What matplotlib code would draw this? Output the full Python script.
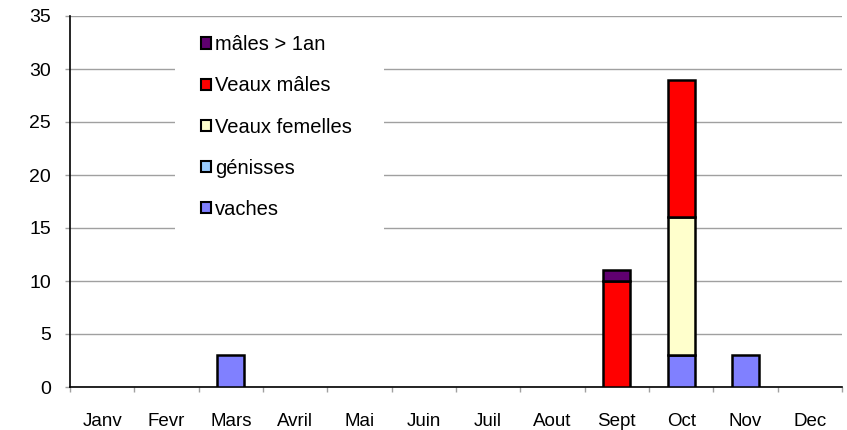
import numpy as np
from matplotlib import pyplot as plt
from matplotlib.patches import Rectangle, Patch

plt.rcParams['font.family'] = ['Liberation Sans', 'DejaVu Sans']

# donnees
mois = ['Janv', 'Fevr', 'Mars', 'Avril', 'Mai', 'Juin', 'Juil', 'Aout', 'Sept', 'Oct', 'Nov', 'Dec']
vaches = [0, 0, 3, 0, 0, 0, 0, 0, 0, 3, 3, 0]
genisses = [0, 0, 0, 0, 0, 0, 0, 0, 0, 0, 0, 0]
veaux_femelles = [0, 0, 0, 0, 0, 0, 0, 0, 0, 13, 0, 0]
veaux_males = [0, 0, 0, 0, 0, 0, 0, 0, 10, 13, 0, 0]
males_1an = [0, 0, 0, 0, 0, 0, 0, 0, 1, 0, 0, 0]

series = [
    ('vaches', vaches, '#8080FF'),
    ('génisses', genisses, '#99CCFF'),
    ('Veaux femelles', veaux_femelles, '#FFFFCC'),
    ('Veaux mâles', veaux_males, '#FF0000'),
    ('mâles > 1an', males_1an, '#600070'),
]

fig = plt.figure(figsize=(8.47, 4.30), dpi=100)
ax = fig.add_axes([70/847, 1 - 387/430, 772/847, 371/430])

x = np.arange(len(mois))
bas = np.zeros(len(mois))
handles = []
for nom, val, coul in series:
    val = np.array(val, dtype=float)
    m = val > 0  # pas de barre pour les zeros (sinon un trait noir sur l'axe)
    ax.bar(x[m], val[m], 0.42, bottom=bas[m], color=coul, edgecolor='black',
           linewidth=1.8, zorder=3)
    handles.append(Patch(facecolor=coul, edgecolor='black', linewidth=1.5))
    bas += val

ax.set_xlim(-0.5, 11.5)
ax.set_ylim(0, 35)
ax.set_yticks(np.arange(0, 36, 5))
ax.yaxis.grid(True, color='#a0a0a0', linewidth=1)
ax.set_axisbelow(True)

# ticks aux limites des categories, etiquettes au centre
ax.set_xticks(np.arange(-0.5, 12, 1))
ax.set_xticklabels([])
ax.set_xticks(x, minor=True)
ax.set_xticklabels(mois, minor=True)
ax.tick_params(axis='x', which='major', length=3.6, color='#a0a0a0', width=1)
ax.tick_params(axis='x', which='minor', length=0, pad=19, labelsize=13.5)
ax.tick_params(axis='y', length=3.6, color='#a0a0a0', width=1, pad=10, labelsize=14)

for s in ['top', 'right']:
    ax.spines[s].set_visible(False)
ax.spines['left'].set_linewidth(1.2)
ax.spines['bottom'].set_linewidth(1.2)

# fond blanc de la legende
ax.add_patch(Rectangle((0.136, 0.396), 0.271, 0.593, transform=ax.transAxes,
                       facecolor='white', edgecolor='none', zorder=2))

leg = ax.legend(handles[::-1], [s[0] for s in series][::-1],
                loc='upper left', bbox_to_anchor=(0.170, 0.948),
                borderaxespad=0, borderpad=0, fontsize=14.5,
                handlelength=0.5, handleheight=0.5, handletextpad=0.2,
                labelspacing=1.1, frameon=False)

fig.savefig('out.png', dpi=100)
